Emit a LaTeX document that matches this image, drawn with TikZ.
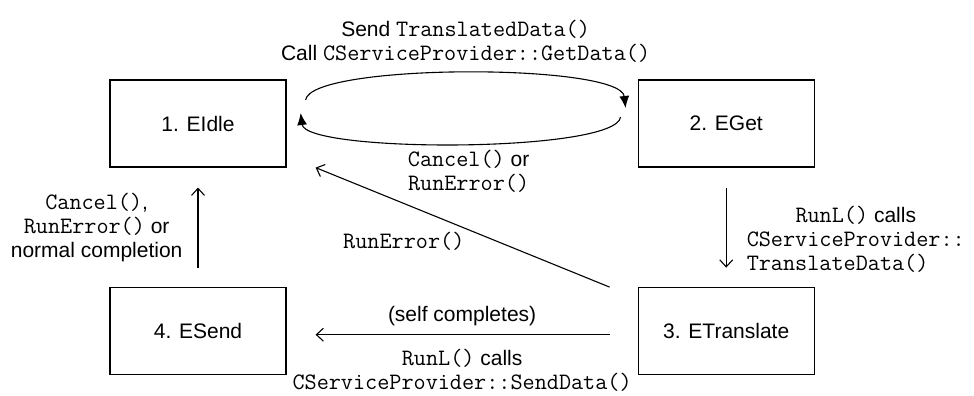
\documentclass[tikz,border=0pt]{standalone}
\usepackage{fontspec}
\setmainfont{Liberation Sans}
\setmonofont[Scale=1.12]{Latin Modern Mono}
\usetikzlibrary{arrows.meta,positioning}

\begin{document}
\begin{tikzpicture}[x=1pt,y=-1pt,node distance=119.5pt and 351pt,
    every node/.style={font=\fontsize{21}{24}\selectfont},
    state box/.style={draw,line width=1.2pt,minimum width=176pt,minimum height=87pt,inner sep=0pt},
    msg/.style={inner sep=0pt,align=center},
    trans/.style={line width=1.1pt,-{Straight Barb[length=7pt,width=13pt]}},
    loop arrow/.style={line width=1.1pt,-{Latex[length=12pt,width=10pt]}}]
   \useasboundingbox (0,0) rectangle (974,396);
   \node[state box] (idle) at (198,123.5) {1. EIdle};
   \node[state box] (get) [right=of idle] {2. EGet};
   \node[state box] (translate) [below=of get] {3. ETranslate};
   \node[state box] (send) [below=of idle] {4. ESend};
   % idle <-> get loop
   \draw[loop arrow] ([xshift=19pt,yshift=23.5pt]idle.east)
        .. controls +(5,-37) and +(-5,-45) .. ([xshift=-12pt,yshift=15.5pt]get.west)
        node[midway,msg,above=10pt]
        {Send \texttt{TranslatedData()}\\Call \texttt{CServiceProvider::GetData()}};
   \draw[loop arrow] ([xshift=-17pt,yshift=6.5pt]get.west)
        .. controls +(-5,36) and +(5,40) .. ([xshift=14pt,yshift=10.5pt]idle.east)
        node[midway,msg,below=6pt,xshift=8pt]
        {\texttt{Cancel()} or\\\texttt{RunError()}};
    \path[trans]
    (send) edge[shorten <=19.5pt,shorten >=20pt]
           node[msg,left=15pt] {\texttt{Cancel()},\\\texttt{RunError()} or\\normal completion} (idle)
    (get)  edge[shorten <=20pt,shorten >=19.5pt]
           node[msg,right=20pt,yshift=-12pt]
           {\texttt{RunL()} calls\\\texttt{CServiceProvider::}\\\texttt{TranslateData()\hphantom{:::}}} (translate)
    ([xshift=-28pt]translate.north west) edge
           node[msg,pos=0.7,below=28pt] {\texttt{RunError()}} ([xshift=29pt]idle.south east)
    ([yshift=-3.5pt]translate.west) edge[shorten <=28pt,shorten >=29pt]
           node[msg,above=8pt] {(self completes)}
           node[msg,below=14pt] {\texttt{RunL()} calls\\\texttt{CServiceProvider::SendData()}}
           ([yshift=-3.5pt]send.east);
\end{tikzpicture}
\end{document}
